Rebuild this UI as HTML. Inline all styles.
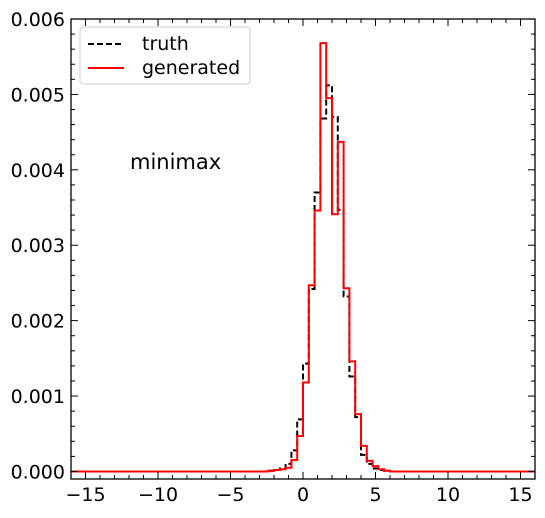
<!DOCTYPE html>
<html><head><meta charset="utf-8"><style>
body{margin:0;background:#fff}
svg text{font-family:"DejaVu Sans","Liberation Sans",sans-serif;font-size:19px;fill:#000}
</style></head><body>
<svg id="chart" width="545" height="513" xmlns="http://www.w3.org/2000/svg"></svg>
<script>
const binEdgesStart = -2.4;
const binWidth = 0.4;
const truthVals = [0.00001,0.00002,0.00004,0.0001,0.00028,0.00069,0.00143,0.00242,0.0037,0.00468,0.00512,0.0047,0.00347,0.00232,0.00126,0.00072,0.00022,0.0001,0.00004,0.00002,0.00001];
const genVals   = [0.00001,0.00002,0.00003,0.00005,0.00015,0.00047,0.00118,0.00247,0.00346,0.00568,0.00495,0.00341,0.00437,0.00243,0.00146,0.00076,0.00034,0.00014,0.00007,0.00003,0.00001];
const xTicks = [-15,-10,-5,0,5,10,15];
const xTickLabels = ["\u221215","\u221210","\u22125","0","5","10","15"];
const yTicks = [0,0.001,0.002,0.003,0.004,0.005,0.006];
const yTickLabels = ["0.000","0.001","0.002","0.003","0.004","0.005","0.006"];

const L=71,R=535,T=19,B=479;
const xMin=-16,xMax=16,yMin=-0.0001,yMax=0.006;
const sx=v=>L+(v-xMin)/(xMax-xMin)*(R-L);
const sy=v=>B-(v-yMin)/(yMax-yMin)*(B-T);
const svg=document.getElementById('chart');
const NS="http://www.w3.org/2000/svg";
function mk(tag,attrs,parent){const e=document.createElementNS(NS,tag);for(const k in attrs)e.setAttribute(k,attrs[k]);(parent||svg).appendChild(e);return e;}

function stepPath(vals){
  let d=`M${sx(xMin)},${sy(0)} L${sx(binEdgesStart)},${sy(0)}`;
  vals.forEach((v,i)=>{const x0=binEdgesStart+i*binWidth,x1=x0+binWidth;d+=` L${sx(x0)},${sy(v)} L${sx(x1)},${sy(v)}`;});
  const end=binEdgesStart+vals.length*binWidth;
  d+=` L${sx(end)},${sy(0)} L${sx(xMax)},${sy(0)}`;
  return d;
}
const tp=mk('path',{d:stepPath(truthVals),fill:'none',stroke:'#000','stroke-width':2,'stroke-dasharray':'6,3'});


const gp=mk('path',{d:stepPath(genVals),fill:'none',stroke:'#f00','stroke-width':2});



const frame=mk('rect',{x:L,y:T,width:R-L,height:B-T,fill:'none',stroke:'#000','stroke-width':1.3});



for(let v=-16;v<=16;v+=1){const x=sx(v);const major=v%5===0;const len=major?7:4;
  mk('line',{x1:x,x2:x,y1:B,y2:B-len,stroke:'#000'});mk('line',{x1:x,x2:x,y1:T,y2:T+len,stroke:'#000'});}
xTicks.forEach((v,i)=>{const t=mk('text',{x:sx(v),y:B+22,'text-anchor':'middle'});t.textContent=xTickLabels[i];
  
  });
for(let k=-1;k<=30;k++){const v=k*0.0002;if(v<yMin||v>yMax)continue;const y=sy(v);const major=k%5===0;const len=major?7:4;
  mk('line',{x1:L,x2:L+len,y1:y,y2:y,stroke:'#000'});mk('line',{x1:R,x2:R-len,y1:y,y2:y,stroke:'#000'});}
yTicks.forEach((v,i)=>{const t=mk('text',{x:L-6,y:sy(v)+7,'text-anchor':'end'});t.textContent=yTickLabels[i];
  
  });

const lg=mk('g',{});


mk('rect',{x:80,y:27,width:170,height:57,rx:3,fill:'#fff',stroke:'#ccc'},lg);
mk('line',{x1:88,x2:124,y1:44,y2:44,stroke:'#000','stroke-width':2,'stroke-dasharray':'6,3'},lg);
mk('line',{x1:88,x2:124,y1:68,y2:68,stroke:'#f00','stroke-width':2},lg);
const l1=mk('text',{x:142,y:50},lg);l1.textContent='truth';


const l2=mk('text',{x:142,y:74},lg);l2.textContent='generated';


const ann=mk('text',{x:130,y:169,style:'font-size:21px'});ann.textContent='minimax';


</script>
</body></html>
